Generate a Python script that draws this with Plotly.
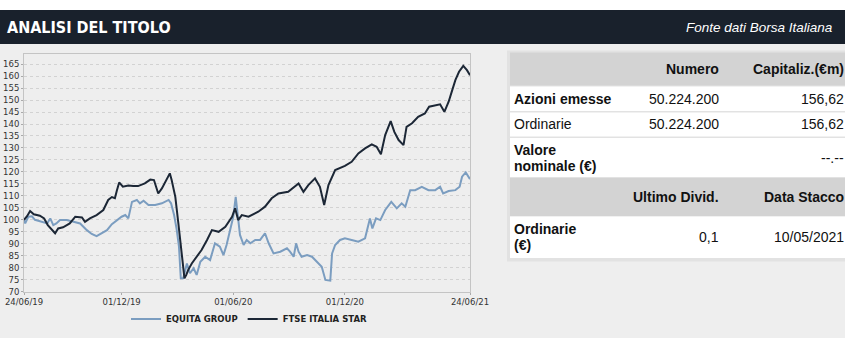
import plotly.graph_objects as go

# ---- price index series (base 100) ----
star_dates = [
    "2019-06-24", "2019-06-29", "2019-07-04", "2019-07-10", "2019-07-20", "2019-07-27",
    "2019-08-02", "2019-08-09", "2019-08-14", "2019-08-19", "2019-08-27", "2019-09-07",
    "2019-09-16", "2019-09-27", "2019-10-02", "2019-10-10", "2019-10-21", "2019-11-01",
    "2019-11-09", "2019-11-15", "2019-11-20", "2019-11-23", "2019-11-27", "2019-12-03",
    "2019-12-12", "2019-12-20", "2019-12-28", "2020-01-08", "2020-01-17", "2020-01-23",
    "2020-01-30", "2020-02-05", "2020-02-13", "2020-02-18", "2020-02-21", "2020-02-27",
    "2020-03-03", "2020-03-10", "2020-03-13", "2020-03-16", "2020-03-19", "2020-03-25",
    "2020-04-02", "2020-04-10", "2020-04-19", "2020-04-27", "2020-05-08", "2020-05-19",
    "2020-05-30", "2020-06-04", "2020-06-09", "2020-06-15", "2020-06-26", "2020-07-12",
    "2020-07-23", "2020-08-03", "2020-08-14", "2020-08-30", "2020-09-16", "2020-09-24",
    "2020-10-02", "2020-10-13", "2020-10-21", "2020-10-28", "2020-11-04", "2020-11-15",
    "2020-12-01", "2020-12-12", "2020-12-23", "2021-01-03", "2021-01-14", "2021-01-22",
    "2021-01-29", "2021-02-05", "2021-02-14", "2021-02-20", "2021-02-27", "2021-03-07",
    "2021-03-12", "2021-03-21", "2021-03-31", "2021-04-11", "2021-04-18", "2021-04-28",
    "2021-05-06", "2021-05-13", "2021-05-20", "2021-05-25", "2021-05-31", "2021-06-06",
    "2021-06-13", "2021-06-19", "2021-06-24",
]
star_values = [
    100.0, 101.5, 103.7, 102.3, 101.7, 100.6,
    97.8, 96.0, 94.4, 96.4, 96.9, 98.5,
    101.3, 101.0, 99.2, 100.6, 102.0, 104.1,
    108.3, 109.5, 109.0, 112.0, 115.6, 113.8,
    114.3, 114.1, 114.1, 115.2, 116.8, 116.6,
    111.0, 113.1, 117.3, 119.4, 116.6, 109.6,
    98.5, 83.2, 75.6, 77.0, 79.0, 81.8,
    84.6, 87.4, 91.6, 95.7, 95.0, 97.1,
    101.3, 104.8, 99.9, 102.0, 101.3, 103.4,
    105.5, 109.0, 111.0, 111.7, 115.2, 111.7,
    114.5, 117.3, 113.8, 106.2, 114.5, 120.8,
    122.5, 124.2, 127.7, 129.8, 131.5, 130.5,
    127.4, 135.4, 141.2, 136.7, 133.3, 131.2,
    138.8, 140.3, 143.0, 144.4, 147.2, 147.9,
    148.2, 145.1, 149.3, 153.4, 158.3, 161.8,
    164.3, 162.5, 160.4,
]

equita_dates = [
    "2019-06-24", "2019-06-26", "2019-07-01", "2019-07-07", "2019-07-12", "2019-07-17",
    "2019-07-26", "2019-08-01", "2019-08-06", "2019-08-11", "2019-08-16", "2019-08-22",
    "2019-09-02", "2019-09-13", "2019-09-24", "2019-10-05", "2019-10-13", "2019-10-21",
    "2019-10-29", "2019-11-07", "2019-11-15", "2019-11-23", "2019-12-01", "2019-12-07",
    "2019-12-12", "2019-12-18", "2019-12-26", "2019-12-31", "2020-01-06", "2020-01-14",
    "2020-01-25", "2020-02-05", "2020-02-16", "2020-02-20", "2020-02-25", "2020-02-29",
    "2020-03-04", "2020-03-07", "2020-03-11", "2020-03-17", "2020-03-22", "2020-03-28",
    "2020-04-02", "2020-04-08", "2020-04-16", "2020-04-24", "2020-05-02", "2020-05-10",
    "2020-05-16", "2020-05-21", "2020-05-27", "2020-06-01", "2020-06-05", "2020-06-09",
    "2020-06-12", "2020-06-18", "2020-06-23", "2020-06-29", "2020-07-07", "2020-07-15",
    "2020-07-23", "2020-07-29", "2020-08-06", "2020-08-17", "2020-08-28", "2020-09-02",
    "2020-09-08", "2020-09-12", "2020-09-16", "2020-09-21", "2020-09-30", "2020-10-08",
    "2020-10-16", "2020-10-24", "2020-10-30", "2020-11-07", "2020-11-10", "2020-11-15",
    "2020-11-23", "2020-12-01", "2020-12-12", "2020-12-23", "2021-01-03", "2021-01-11",
    "2021-01-15", "2021-01-21", "2021-01-28", "2021-02-05", "2021-02-15", "2021-02-24",
    "2021-03-04", "2021-03-10", "2021-03-18", "2021-03-26", "2021-04-06", "2021-04-17",
    "2021-04-28", "2021-05-06", "2021-05-11", "2021-05-20", "2021-05-31", "2021-06-07",
    "2021-06-11", "2021-06-17", "2021-06-24",
]
equita_values = [
    100.0, 98.5, 101.3, 101.5, 100.0, 99.6,
    99.2, 98.5, 100.6, 97.8, 98.5, 99.9,
    99.9, 99.2, 98.5, 95.7, 94.1, 93.2,
    94.4, 95.7, 98.2, 99.9, 101.3, 102.0,
    100.6, 107.5, 108.3, 106.9, 108.0, 106.2,
    106.2, 106.9, 108.3, 106.9, 102.0, 96.4,
    88.8, 75.6, 75.6, 81.8, 77.7, 79.8,
    77.0, 82.5, 84.6, 83.2, 90.2, 88.8,
    85.3, 89.5, 95.7, 101.3, 109.6, 101.3,
    93.7, 89.5, 91.6, 90.2, 91.6, 91.6,
    94.4, 90.2, 86.0, 86.7, 88.1, 86.7,
    84.6, 90.2, 86.7, 84.6, 85.3, 84.6,
    82.5, 80.4, 74.9, 74.6, 86.0, 89.5,
    91.6, 92.3, 91.6, 90.9, 92.3, 100.6,
    96.4, 100.6, 99.9, 104.1, 107.5, 104.8,
    106.9, 105.5, 112.4, 112.4, 113.8, 112.4,
    112.4, 113.8, 111.0, 112.0, 112.4, 113.8,
    118.0, 119.8, 117.0,
]

x_tick_dates = ["2019-06-24", "2019-12-01", "2020-06-01", "2020-12-01", "2021-06-24"]
x_tick_labels = ["24/06/19", "01/12/19", "01/06/20", "01/12/20", "24/06/21"]

# ---- share data table ----
table_head_1 = ["", "Numero", "Capitaliz.(€m)"]
table_rows = [
    (["Azioni emesse"], "50.224.200", "156,62", True),
    (["Ordinarie"], "50.224.200", "156,62", False),
    (["Valore", "nominale (€)"], "", "--.--", True),
]
table_head_2 = ["", "Ultimo Divid.", "Data Stacco"]
dividend_row = (["Ordinarie", "(€)"], "0,1", "10/05/2021")

title_text = "ANALISI DEL TITOLO"
source_text = "Fonte dati Borsa Italiana"

W, H = 845, 338
BG = "#eeeeee"


def px(x):
    return x / W


def py(y):
    return 1 - y / H


fig = go.Figure()
fig.add_trace(go.Scatter(
    x=equita_dates, y=equita_values, name="EQUITA GROUP", mode="lines",
    line=dict(color="#7b9dc0", width=2),
))
fig.add_trace(go.Scatter(
    x=star_dates, y=star_values, name="FTSE ITALIA STAR", mode="lines",
    line=dict(color="#1c2736", width=2),
))

chart_font = dict(family="DejaVu Sans", size=8.5, color="#333333")

fig.update_layout(
    width=W, height=H,
    margin=dict(l=0, r=0, t=0, b=0, autoexpand=False),
    paper_bgcolor=BG, plot_bgcolor=BG,
    showlegend=True,
    legend=dict(
        orientation="h", x=px(249), xanchor="center", y=py(319), yanchor="middle",
        font=dict(family="DejaVu Sans", size=8.5, color="#222222", weight="bold"),
        bgcolor="rgba(0,0,0,0)", itemwidth=30, tracegroupgap=0,
    ),
    xaxis=dict(
        type="date", domain=[px(24), px(470)], automargin=False,
        range=["2019-06-24", "2021-06-24"],
        tickvals=x_tick_dates, ticktext=x_tick_labels,
        tickfont=chart_font, ticks="outside", ticklen=2, tickcolor="#aaaaaa",
        showgrid=False, zeroline=False,
        showline=True, mirror=True, linecolor="#c4c4c4", linewidth=1,
    ),
    yaxis=dict(
        domain=[py(291.7), py(54.3)], automargin=False,
        range=[70, 169.1], tick0=70, dtick=5,
        tickfont=chart_font, ticks="outside", ticklen=2, tickcolor="#aaaaaa",
        showgrid=True, gridcolor="#d2d2d2", griddash="dot", gridwidth=1,
        zeroline=False,
        showline=True, mirror=True, linecolor="#c4c4c4", linewidth=1,
    ),
)

shapes = []
annotations = []

# header band
shapes.append(dict(type="rect", xref="paper", yref="paper", x0=0, x1=1, y0=py(10), y1=1,
                   fillcolor="#ffffff", line=dict(width=0), layer="below"))
shapes.append(dict(type="rect", xref="paper", yref="paper", x0=0, x1=1, y0=py(44), y1=py(10),
                   fillcolor="#19212c", line=dict(width=0), layer="below"))
annotations.append(dict(
    xref="paper", yref="paper", x=px(6), y=py(27.5), xanchor="left", yanchor="middle",
    text=title_text, showarrow=False, borderpad=0,
    font=dict(family="DejaVu Sans Condensed, Roboto, sans-serif", size=16,
              color="#ffffff", weight="bold"),
))
annotations.append(dict(
    xref="paper", yref="paper", x=px(834), y=py(27.5), xanchor="right", yanchor="middle",
    text=source_text, showarrow=False, borderpad=0,
    font=dict(family="Liberation Sans", size=13.5, color="#ffffff", style="italic"),
))

# table
TL, TR = 510, 846
COL2_R, COL3_R, TXT_L = 720, 845, 513
tfont = "Liberation Sans, Arial"


def rect(y0, y1, color, x0=TL, x1=TR):
    shapes.append(dict(type="rect", xref="paper", yref="paper", x0=px(x0), x1=px(x1),
                       y0=py(y1), y1=py(y0), fillcolor=color, line=dict(width=0),
                       layer="below"))


def text(x, y, s, anchor, bold=False):
    annotations.append(dict(
        xref="paper", yref="paper", x=px(x), y=py(y), xanchor=anchor, yanchor="middle",
        text=s, showarrow=False, borderpad=0,
        font=dict(family=tfont, size=14, color="#111111", weight="bold" if bold else "normal"),
    ))


def label_lines(lines, y_mid, bold):
    n = len(lines)
    for i, s in enumerate(lines):
        text(TXT_L, y_mid + (i - (n - 1) / 2) * 16, s, "left", bold)


rect(50.5, 261.5, "#e2e2e2", x0=507)
row_bounds = [(52.5, 85.5), (86.5, 111), (112.5, 136.5), (138, 177.5), (177.5, 216), (216.5, 258)]
row_colors = ["#d3d3d3", "#ffffff", "#ffffff", "#ffffff", "#d3d3d3", "#ffffff"]
for (y0, y1), c in zip(row_bounds, row_colors):
    rect(y0, y1, c)

y_mid = [(a + b) / 2 for a, b in row_bounds]
text(COL2_R, y_mid[0], table_head_1[1], "right", True)
text(COL3_R, y_mid[0], table_head_1[2], "right", True)
for (lines, num, cap, bold), ym in zip(table_rows, y_mid[1:4]):
    label_lines(lines, ym, bold)
    if num:
        text(COL2_R, ym, num, "right")
    text(COL3_R, ym, cap, "right")
text(COL2_R, y_mid[4], table_head_2[1], "right", True)
text(COL3_R, y_mid[4], table_head_2[2], "right", True)
label_lines(dividend_row[0], y_mid[5], True)
text(COL2_R, y_mid[5], dividend_row[1], "right")
text(COL3_R, y_mid[5], dividend_row[2], "right")

fig.update_layout(shapes=shapes, annotations=annotations)
fig.write_html("out.html")
